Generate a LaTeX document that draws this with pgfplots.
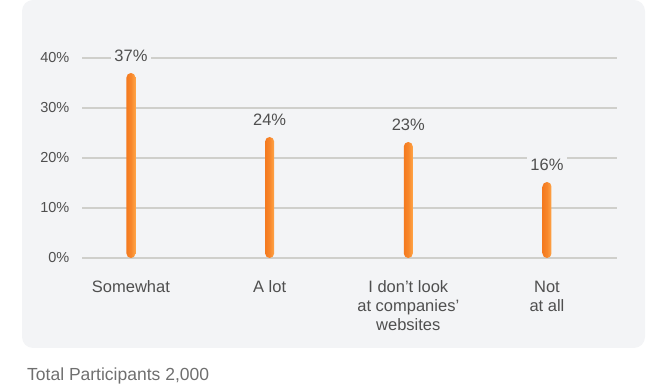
\documentclass[border=0pt]{standalone}
\usepackage{pgfplots}
\pgfplotsset{compat=1.18}
\usepackage{fontspec}
\setmainfont{Liberation Sans}
\definecolor{panelc}{HTML}{F3F4F6}
\definecolor{gridc}{HTML}{CFCFCB}
\definecolor{textc}{HTML}{4F4F4F}
\definecolor{footc}{HTML}{6F6F6F}
\definecolor{oA}{HTML}{F47A1F}
\definecolor{oB}{HTML}{FFA548}
\pgfplotstableread{
x y lab
0 37 37
1 24.2 24
2 23.2 23
3 15.2 16
}\datatab
\pgfplotsset{barst/.style={ybar, bar width=9pt, bar shift=0pt, draw=none, left color=oA, right color=oB, middle color=oA!70!oB, rounded corners=4.5pt}}
\begin{document}
\begin{tikzpicture}[x=1pt,y=1pt]
\path[use as bounding box] (0,0) rectangle (666,385);
\fill[panelc, rounded corners=11pt] (22,37) rectangle (645,385);
\node[anchor=base west, inner sep=0pt, text=footc, font=\fontsize{17.5}{20}\selectfont] at (27,4.5) {Total Participants 2,000};
\begin{axis}[
  at={(82pt,127pt)}, anchor=south west,
  scale only axis, width=535pt, height=200pt,
  xmin=-0.353, xmax=3.505, ymin=0, ymax=40,
  axis line style={draw=none},
  major tick style={draw=none},
  ytick={0,10,20,30,40},
  ymajorgrids, grid style={gridc, line width=1.6pt},
  yticklabel={\pgfmathprintnumber[assume math mode=true]{\tick}\%},
  yticklabel style={anchor=east, inner sep=0pt, xshift=-12.5pt, text=textc, font=\fontsize{14.5}{17}\selectfont},
  xtick={0,1,2,3},
  xticklabels={Somewhat, A lot, {I don’t look\\at companies’\\websites}, {Not\\at all}},
  xticklabel style={anchor=north, align=center, inner sep=0pt, yshift=-22.5pt, text=textc, font=\fontsize{16.5}{19}\selectfont},
  clip=false,
]
\addplot[barst] coordinates {(0,37)};
\addplot[barst] coordinates {(1,24.2)};
\addplot[barst] coordinates {(2,23.2)};
\addplot[barst] coordinates {(3,15.2)};
\addplot[draw=none, mark=none, point meta=explicit,
  nodes near coords={\pgfmathprintnumber[assume math mode=true]{\pgfplotspointmeta}\%},
  nodes near coords style={anchor=center, yshift=17pt, fill=panelc, inner xsep=3.5pt, inner ysep=4pt, text=textc, font=\fontsize{16.5}{19}\selectfont}
] table[x=x, y=y, meta=lab] {\datatab};
\end{axis}
\end{tikzpicture}
\end{document}
